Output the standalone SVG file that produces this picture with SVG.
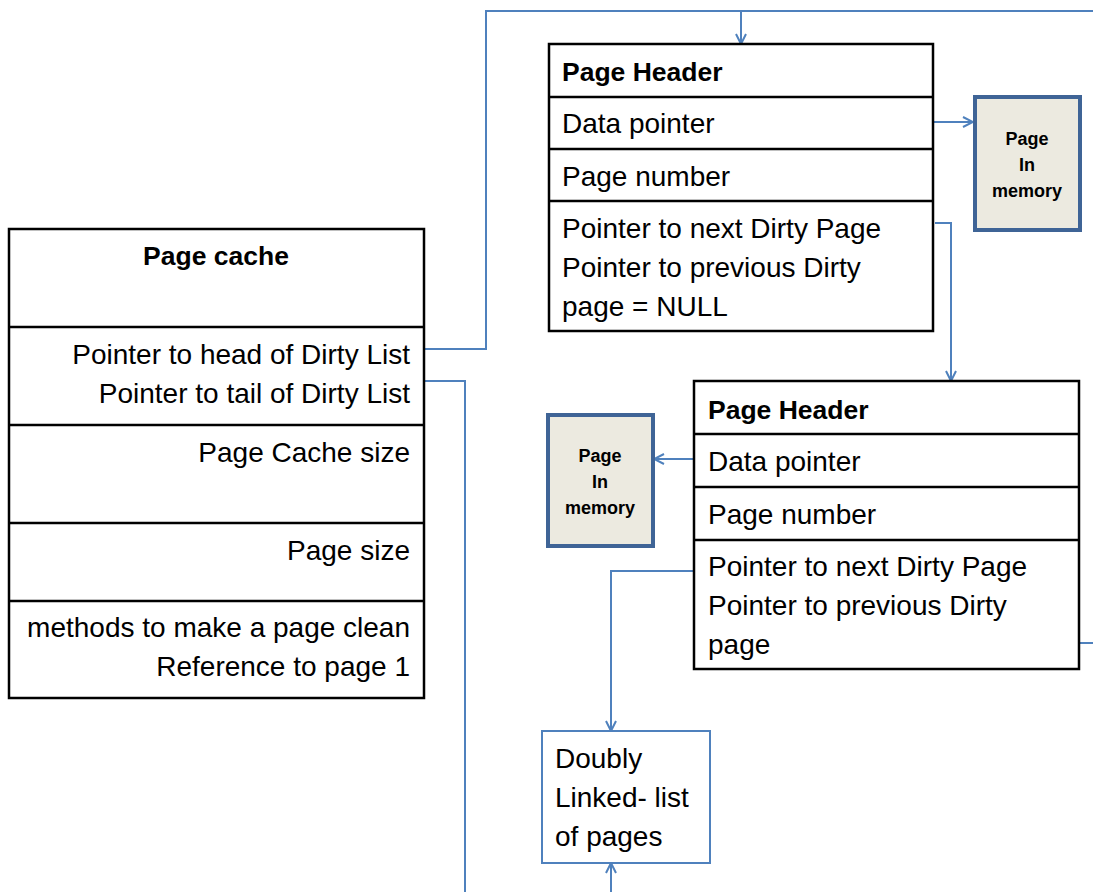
<svg xmlns="http://www.w3.org/2000/svg" width="1093" height="892" viewBox="0 0 1093 892">
  <style>
    .box { fill: #ffffff; stroke: #000000; stroke-width: 2.5; }
    .div { stroke: #000000; stroke-width: 2.5; }
    .mem { fill: #ECEAE0; stroke: #3F6496; stroke-width: 4; }
    .list { fill: #ffffff; stroke: #4F81BD; stroke-width: 2; }
    .conn { fill: none; stroke: #4F81BD; stroke-width: 2; }
    text { font-family: "Liberation Sans", Arial, sans-serif; font-size: 28px; fill: #000000; }
    .b { font-weight: bold; font-size: 26.5px; }
    .r { text-anchor: end; }
    .m { font-size: 18px; font-weight: bold; text-anchor: middle; }
  </style>
  <defs>
    <marker id="arrow" viewBox="0 0 12 12" refX="11" refY="6" markerWidth="12" markerHeight="12" markerUnits="userSpaceOnUse" orient="auto">
      <path d="M1,1 L11,6 L1,11" fill="none" stroke="#4F81BD" stroke-width="2"/>
    </marker>
  </defs>

  <!-- connectors -->
  <g id="connectors">
    <polyline class="conn" points="424,349 486,349 486,11 1093,11"/>
    <polyline class="conn" points="741,11 741,44" marker-end="url(#arrow)"/>
    <polyline class="conn" points="424,381 465,381 465,892"/>
    <polyline class="conn" points="933,122 973,122" marker-end="url(#arrow)"/>
    <polyline class="conn" points="935,223 951,223 951,381" marker-end="url(#arrow)"/>
    <polyline class="conn" points="694,459 654,459" marker-end="url(#arrow)"/>
    <polyline class="conn" points="694,571 611,571 611,731" marker-end="url(#arrow)"/>
    <polyline class="conn" points="611,892 611,863" marker-end="url(#arrow)"/>
    <polyline class="conn" points="1079,643 1093,643"/>
  </g>

  <!-- page cache -->
  <g id="page-cache">
    <rect class="box" x="9" y="229" width="415" height="469"/>
    <line class="div" x1="9" y1="327" x2="424" y2="327"/>
    <line class="div" x1="9" y1="425" x2="424" y2="425"/>
    <line class="div" x1="9" y1="523" x2="424" y2="523"/>
    <line class="div" x1="9" y1="601" x2="424" y2="601"/>
    <text class="b" x="216" y="265" text-anchor="middle">Page cache</text>
    <text class="r" x="410" y="364">Pointer to head of Dirty List</text>
    <text class="r" x="410" y="403">Pointer to tail of Dirty List</text>
    <text class="r" x="410" y="462">Page Cache size</text>
    <text class="r" x="410" y="560">Page size</text>
    <text class="r" x="410" y="637">methods to make a page clean</text>
    <text class="r" x="410" y="676">Reference to page 1</text>
  </g>

  <!-- first page header -->
  <g id="page-header-1">
    <rect class="box" x="549" y="44" width="384" height="287"/>
    <line class="div" x1="549" y1="97" x2="933" y2="97"/>
    <line class="div" x1="549" y1="149" x2="933" y2="149"/>
    <line class="div" x1="549" y1="201" x2="933" y2="201"/>
    <text class="b" x="562" y="81">Page Header</text>
    <text x="562" y="133">Data pointer</text>
    <text x="562" y="186">Page number</text>
    <text x="562" y="238">Pointer to next Dirty Page</text>
    <text x="562" y="277">Pointer to previous Dirty</text>
    <text x="562" y="316">page = NULL</text>
  </g>

  <g id="page-in-memory-1">
    <rect class="mem" x="975" y="97" width="105" height="133"/>
    <text class="m" x="1027" y="145">Page</text>
    <text class="m" x="1027" y="171">In</text>
    <text class="m" x="1027" y="197">memory</text>
  </g>

  <!-- second page header -->
  <g id="page-header-2">
    <rect class="box" x="694" y="381" width="385" height="288"/>
    <line class="div" x1="694" y1="434" x2="1079" y2="434"/>
    <line class="div" x1="694" y1="487" x2="1079" y2="487"/>
    <line class="div" x1="694" y1="540" x2="1079" y2="540"/>
    <text class="b" x="708" y="419">Page Header</text>
    <text x="708" y="471">Data pointer</text>
    <text x="708" y="524">Page number</text>
    <text x="708" y="576">Pointer to next Dirty Page</text>
    <text x="708" y="615">Pointer to previous Dirty</text>
    <text x="708" y="654">page</text>
  </g>

  <g id="page-in-memory-2">
    <rect class="mem" x="548" y="415" width="105" height="131"/>
    <text class="m" x="600" y="462">Page</text>
    <text class="m" x="600" y="488">In</text>
    <text class="m" x="600" y="514">memory</text>
  </g>

  <g id="doubly-linked-list">
    <rect class="list" x="542" y="731" width="168" height="132"/>
    <text x="555" y="768">Doubly</text>
    <text x="555" y="807">Linked- list</text>
    <text x="555" y="846">of pages</text>
  </g>
</svg>
